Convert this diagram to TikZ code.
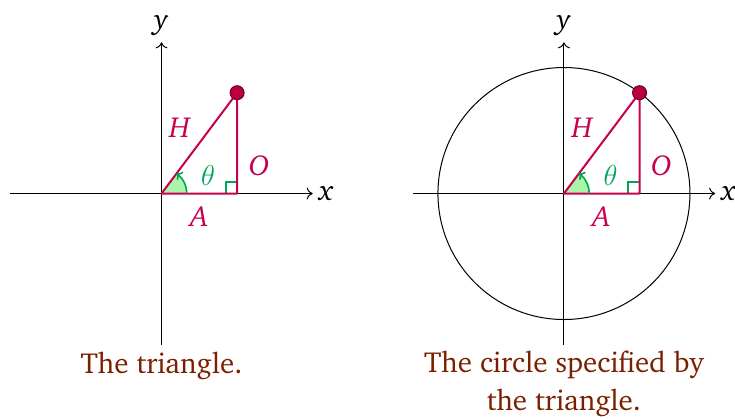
\documentclass[tikz,border=0pt]{standalone}
\usepackage[T1]{fontenc}
\usepackage{charter}
\usetikzlibrary{arrows.meta}
\definecolor{tri}{RGB}{200,0,80}
\definecolor{dotfill}{RGB}{185,0,60}
\definecolor{dotdraw}{RGB}{110,0,35}
\definecolor{ang}{RGB}{0,165,85}
\definecolor{angfill}{RGB}{170,245,170}
\definecolor{capt}{RGB}{122,32,0}
\tikzset{
  axis/.style={line width=0.5pt,-{To[length=3pt,width=6pt]}},
  triline/.style={tri,line width=1pt,line join=round},
  angarrow/.style={ang,line width=0.8pt,-{To[length=2.5pt,width=5pt]}},
  rightmark/.style={ang,line width=0.8pt},
  dotnode/.style={circle,fill=dotfill,draw=dotdraw,line width=0.5pt,minimum size=7pt,inner sep=0pt},
  trilabel/.style={tri,inner sep=0pt},
  anglabel/.style={ang,inner sep=0pt},
  captionnode/.style={capt,align=center}
}
\begin{document}
\begin{tikzpicture}[x=12.6pt,y=12.6pt,font=\fontsize{14.5}{19}\selectfont]
\useasboundingbox (-6.409,-8.909) rectangle (22.758,7.679);
\draw[line width=0.5pt] (15.97,0) circle[radius=5];
\foreach \s/\n in {0/L,15.97/R}{
  \coordinate (O\n) at (\s,0);
  \coordinate (F\n) at (\s+3,0);
  \coordinate (P\n) at (\s+3,4);
  \coordinate (xs\n) at (\s-6,0);
  \coordinate (xe\n) at (\s+6,0);
  \coordinate (ys\n) at (\s,-6);
  \coordinate (ye\n) at (\s,6);
  \draw[axis] (xs\n) -- (xe\n);
  \draw[axis] (ys\n) -- (ye\n);
  \node[right,inner sep=3pt] (xl\n) at (xe\n) {\textit{x}};
  \node[above,inner sep=3pt] (yl\n) at (ye\n) {\textit{y}};
  \fill[angfill] (O\n) -- ([shift={(1,0)}]O\n) arc[start angle=0,end angle=53.13,radius=1] -- cycle;
  \draw[rightmark] ([shift={(-0.45,0)}]F\n) -- ++(0,0.45) -- ++(0.45,0);
  \draw[triline] (O\n) -- (F\n) -- (P\n) -- cycle;
  \draw[angarrow] ([shift={(1,0)}]O\n) arc[start angle=0,end angle=53.13,radius=1];
  \node[dotnode] (D\n) at (P\n) {};
  \node[trilabel] (H\n) at (\s+0.74,2.6) {\textit{H}};
  \node[trilabel] (Ol\n) at (\s+3.87,1.09) {\textit{O}};
  \node[trilabel] (A\n) at (\s+1.49,-0.93) {\textit{A}};
  \node[anglabel] (T\n) at (\s+1.85,0.73) {$\theta$};
}
\node[captionnode] (capL) at (0,-6.85) {The triangle.};
\node[captionnode] (capR) at (15.97,-7.56) {The circle specified by\\the triangle.};
\end{tikzpicture}
\end{document}
